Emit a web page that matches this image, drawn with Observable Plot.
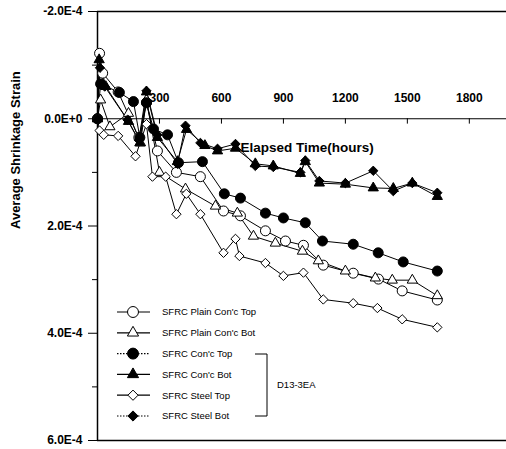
<!DOCTYPE html>
<html><head><meta charset="utf-8">
<script src="https://cdn.jsdelivr.net/npm/d3@7"></script>
<script src="https://cdn.jsdelivr.net/npm/@observablehq/plot@0.6"></script>
<style>
body{margin:0;background:#fff;}
#chart{position:relative;width:506px;height:449px;}
svg{font-family:Arial,"Liberation Sans",sans-serif;}
</style></head><body><div id="chart"></div>
<script>
// ---- data (strain values in units of 1E-4; positive = shrinkage, plotted downward) ----
const seriesNames = ["SFRC Plain Con'c Top","SFRC Plain Con'c Bot","SFRC Con'c Top","SFRC Con'c Bot","SFRC Steel Top","SFRC Steel Bot"];

const plainTopHours  = [0, 10, 25, 100, 200, 237, 290, 382, 498, 610, 692, 813, 910, 997, 1093, 1238, 1360, 1475, 1645];
const plainTopStrain = [0, -1.22, -0.85, -0.5, 0.35, -0.3, 0.6, 1.0, 1.08, 1.72, 1.81, 2.09, 2.28, 2.36, 2.73, 2.88, 2.99, 3.21, 3.38];

const plainBotHours  = [0, 15, 60, 150, 208, 237, 300, 426, 571, 677, 755, 861, 992, 1069, 1200, 1345, 1427, 1524, 1645];
const plainBotStrain = [0, -0.35, 0.15, -0.1, 0.45, -0.35, 1.0, 1.31, 1.63, 1.76, 2.19, 2.32, 2.47, 2.65, 2.84, 2.97, 3.01, 3.01, 3.3];

const concTopHours  = [0, 15, 106, 174, 205, 237, 271, 339, 392, 508, 614, 692, 813, 900, 1006, 1089, 1238, 1359, 1480, 1645];
const concTopStrain = [0, -0.65, -0.49, -0.32, 0.35, -0.3, 0.19, 0.3, 0.82, 0.8, 1.4, 1.48, 1.76, 1.85, 1.94, 2.28, 2.34, 2.5, 2.67, 2.84];

const concBotHours  = [0, 8, 40, 150, 205, 237, 290, 387, 431, 520, 581, 668, 764, 851, 982, 1006, 1074, 1200, 1335, 1432, 1524, 1645];
const concBotStrain = [0, -1.1, -0.6, 0.05, 0.45, -0.5, 0.35, 0.8, 0.2, 0.5, 0.6, 0.55, 0.84, 0.88, 1.02, 0.8, 1.2, 1.22, 1.29, 1.3, 1.2, 1.45];

const steelTopHours  = [0, 10, 30, 100, 184, 237, 266, 330, 382, 430, 498, 610, 668, 687, 813, 900, 997, 1093, 1238, 1355, 1475, 1645];
const steelTopStrain = [0, 0.22, 0.3, 0.32, 0.7, 0.1, 1.08, 1.08, 1.78, 1.4, 1.78, 2.5, 2.24, 2.56, 2.69, 2.93, 2.87, 3.37, 3.44, 3.53, 3.74, 3.89];

const steelBotHours  = [0, 12, 35, 145, 200, 237, 290, 387, 426, 498, 581, 668, 764, 851, 982, 1006, 1074, 1200, 1335, 1432, 1524, 1645];
const steelBotStrain = [0, -0.95, -0.6, 0.02, 0.4, -0.52, 0.3, 0.84, 0.13, 0.45, 0.56, 0.47, 0.88, 0.9, 1.0, 0.78, 1.16, 1.2, 0.97, 1.35, 1.2, 1.38];

const xTickValues = [300, 600, 900, 1200, 1500, 1800];
const yTickValues = [-2, 0, 2, 4, 6];
const yTickLabels = ["-2.0E-4", "0.0E+0", "2.0E-4", "4.0E-4", "6.0E-4"];
const yMinorTicks = [-1, 1, 3, 5];
const xAxisTitle = "Elapsed Time(hours)";
const yAxisTitle = "Average Shrinkage Strain";
const groupLabel = "D13-3EA";

// ---- styles ----
const styles = [
  {symbol: "circle",   fill: "white", r: 5, dash: null},
  {symbol: "triangle", fill: "white", r: 3.8, dash: null},
  {symbol: "circle",   fill: "black", r: 5, dash: "1.5,1.5"},
  {symbol: "triangle", fill: "black", r: 3.8, dash: null},
  {symbol: "diamond2", fill: "white", r: 4.2, dash: null},
  {symbol: "diamond2", fill: "black", r: 4.2, dash: "1.5,1.5"}
];

const seriesHours = [plainTopHours, plainBotHours, concTopHours, concBotHours, steelTopHours, steelBotHours];
const seriesStrain = [plainTopStrain, plainBotStrain, concTopStrain, concBotStrain, steelTopStrain, steelBotStrain];
const tables = seriesHours.map((hs, s) => hs.map((h, i) => ({hours: h, strain: seriesStrain[s][i]})));

const lineMarks = tables.map(t => Plot.line(t, {x: "hours", y: "strain", stroke: "black", strokeWidth: 1}));
const dotMarks = tables.map((t, s) => Plot.dot(t, {x: "hours", y: "strain", symbol: () => styles[s].symbol, r: styles[s].r, fill: styles[s].fill, stroke: "black", strokeWidth: 1}));

const chart = Plot.plot({
  width: 506, height: 449,
  marginLeft: 97, marginRight: 0, marginTop: 11, marginBottom: 9,
  style: {fontFamily: "Arial, 'Liberation Sans', sans-serif", background: "white"},
  x: {domain: [0, 1980], axis: null},
  y: {domain: [-2, 6], reverse: true, axis: null},
  symbol: {type: "identity"},
  marks: [
    Plot.ruleY([-2, 6], {stroke: "black", strokeWidth: 1.5}),
    Plot.ruleX([0], {stroke: "black", strokeWidth: 1.5}),
    Plot.ruleY([0], {stroke: "black", strokeWidth: 1.2}),
    Plot.ruleX(xTickValues, {x: d => d, y1: 0, y2: 0.1, stroke: "black"}),
    Plot.text(xTickValues, {x: d => d, y: 0, dy: -21, text: d => String(d), fontSize: 12, fontWeight: "bold", fill: "black"}),
    Plot.axisY(yTickValues, {anchor: "left", tickSize: 9, tickPadding: 6, tickFormat: d => yTickLabels[yTickValues.indexOf(d)], fontSize: 12, fontWeight: "bold", label: null, stroke: "black", fill: "black"}),
    Plot.axisY(yMinorTicks, {anchor: "left", tickSize: 5, tickFormat: () => "", label: null, stroke: "black"}),
    Plot.text([xAxisTitle], {frameAnchor: "top-left", dx: 143, dy: 131, textAnchor: "start", fontSize: 13.5, fontWeight: "bold", fill: "black"}),
    Plot.text([yAxisTitle], {frameAnchor: "left", dx: -82, dy: 3, rotate: -90, fontSize: 13, fontWeight: "bold", fill: "black"}),
    ...lineMarks,
    ...dotMarks
  ]
});
document.getElementById("chart").appendChild(chart);

// ---- legend overlay ----
const svg = d3.select(chart);
const lg = svg.append("g").attr("text-anchor", "start");
const legendY0 = 312, legendStep = 20.8;
const symMap = {circle: d3.symbolCircle, triangle: d3.symbolTriangle, diamond2: d3.symbolDiamond2};
seriesNames.forEach((name, i) => {
  const y = legendY0 + i * legendStep;
  const st = styles[i];
  lg.append("line").attr("x1", 117).attr("x2", 150).attr("y1", y).attr("y2", y)
    .attr("stroke", "black").attr("stroke-width", 1.2).attr("stroke-dasharray", st.dash);
  lg.append("path").attr("d", d3.symbol(symMap[st.symbol], Math.PI * st.r * st.r * 1.2)())
    .attr("transform", `translate(133,${y})`).attr("fill", st.fill).attr("stroke", "black").attr("stroke-width", 1);
  lg.append("text").attr("x", 162).attr("y", y).attr("dy", "0.35em").attr("text-anchor", "start")
    .attr("font-size", 9.5).attr("fill", "black").text(name);
});
lg.append("path").attr("d", "M255,354H267V416H255").attr("fill", "none").attr("stroke", "black").attr("stroke-width", 1);
lg.append("text").attr("x", 277).attr("y", 385).attr("dy", "0.35em").attr("text-anchor", "start")
  .attr("font-size", 9.5).attr("fill", "black").text(groupLabel);
</script></body></html>
